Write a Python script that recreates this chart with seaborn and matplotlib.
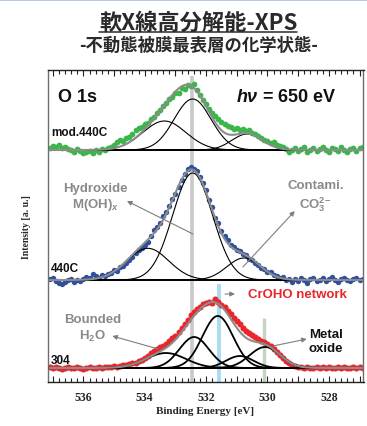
import numpy as np
import matplotlib
matplotlib.use("Agg")
import matplotlib.pyplot as plt
import seaborn as sns
from matplotlib.ticker import MultipleLocator, FuncFormatter
from matplotlib.lines import Line2D

# ---------------- data (heights, arbitrary units) ----------------
energy = np.round(np.linspace(537.1, 526.9, 103), 2)          # binding energy grid [eV]

mod440_counts = [2, 4, 3, 5, 2, 3, 1, 0, -2, 1,
                 -1, -3, -2, -1, -3, 0, -2, 1, 0, 2,
                 3, 5, 8, 10, 9, 12, 13, 16, 20, 22,
                 23, 26, 27, 31, 33, 37, 40, 44, 47, 51,
                 53, 57, 57, 62, 61, 65, 64, 66, 60, 55,
                 50, 46, 41, 37, 34, 31, 28, 26, 24, 23,
                 21, 22, 20, 21, 19, 20, 17, 16, 14, 12,
                 10, 9, 7, 8, 5, 4, 3, 1, -2, 0,
                 2, -1, 1, 3, -2, 0, 2, -1, 1, 3,
                 0, -2, 2, 1, -1, 3, 0, -2, 1, 2,
                 -1, 2, 3]
c440_counts = [1, 2, -1, -3, -4, -2, 0, 1, -2, 0,
               -1, 1, 3, 2, 6, 4, 2, 5, 4, 6,
               7, 10, 9, 13, 14, 17, 20, 23, 27, 30,
               32, 35, 38, 44, 50, 53, 57, 64, 68, 74,
               81, 86, 93, 100, 106, 111, 113, 111, 109, 103,
               97, 90, 80, 73, 62, 57, 49, 44, 40, 35,
               33, 30, 29, 26, 25, 21, 20, 17, 15, 12,
               11, 8, 8, 5, 4, 2, 3, 0, 1, -2,
               1, -1, 2, 0, -3, 1, 2, -1, 0, 2,
               -1, 1, 3, 0, -2, 1, 2, 0, -1, 1,
               2, 0, 1]
s304_counts = [1, 0, 1, 0, -1, 0, 1, 0, 0, 1,
               0, -1, 0, 1, 0, 0, 1, 0, 1, 1,
               1, 2, 1, 2, 3, 3, 4, 5, 5, 7,
               8, 10, 12, 15, 17, 19, 21, 22, 24, 27,
               30, 32, 36, 40, 44, 48, 53, 56, 59, 61,
               64, 65, 66, 65, 69, 66, 63, 61, 57, 54,
               50, 47, 44, 40, 37, 35, 33, 31, 29, 27,
               26, 24, 22, 19, 16, 13, 10, 7, 5, 3,
               2, 1, 1, 0, 1, 0, 0, 1, 0, 1,
               0, 1, 0, 0, 1, 0, 1, 0, 0, 1,
               0, 1, 0]

sample_labels = ["mod.440C", "440C", "304"]
offsets = [232, 102, 14]          # vertical offset of each spectrum

# fitted components: centre [eV], height, sigma [eV]
mod440_centres = [533.36, 532.44, 530.66]
mod440_heights = [29, 51, 16]
mod440_sigmas = [0.70, 0.60, 0.50]
c440_centres = [533.90, 532.44, 530.77]
c440_heights = [31.7, 107, 22]
c440_sigmas = [0.68, 0.65, 0.55]
s304_centres = [533.31, 532.39, 531.62, 530.90, 530.08]
s304_heights = [15, 31, 52, 12, 21]
s304_sigmas = [0.65, 0.48, 0.50, 0.45, 0.50]

marker_energies = [532.45, 531.59, 530.10]
marker_tops = [306, 98, 64]

xtick_values = [536, 534, 532, 530, 528]

# ---------------- style ----------------
sns.set_style("white")
plt.rcParams['font.family'] = ['Liberation Sans', 'Noto Sans CJK JP', 'DejaVu Sans']
plt.rcParams['mathtext.fontset'] = 'custom'
plt.rcParams['mathtext.rm'] = 'Liberation Sans:bold'
plt.rcParams['mathtext.it'] = 'Liberation Sans:italic:bold'
plt.rcParams['mathtext.bf'] = 'Liberation Sans:bold'

W, H = 367, 427
fig = plt.figure(figsize=(W / 100, H / 100), dpi=100)
ax = fig.add_axes([47.5 / W, (H - 383) / H, 316 / W, 312 / H])

green, blue, red = '#3cb64a', '#2f4f9f', '#e8262b'
envcol = '#8c8c8c'

# marker lines
for e, top, col, lw in zip(marker_energies, marker_tops,
                           ['#c9c9c9', '#a9dcf2', '#c3d5c0'], [2.6, 2.8, 2.4]):
    ax.vlines(e, 0, top, color=col, lw=lw, zorder=1)

xf = np.linspace(537.1, 526.9, 600)


def gauss(x, c, h, s):
    return h * np.exp(-(x - c) ** 2 / (2 * s ** 2))


specs = [
    (mod440_counts, mod440_centres, mod440_heights, mod440_sigmas, green, 0.8, 17),
    (c440_counts, c440_centres, c440_heights, c440_sigmas, blue, 0.8, 15),
    (s304_counts, s304_centres, s304_heights, s304_sigmas, red, 1.3, 19),
]

for (counts, cs, hs, ss, col, clw, msz), off in zip(specs, offsets):
    sns.scatterplot(x=energy, y=off + np.array(counts, float), ax=ax, color=col,
                    s=msz, linewidth=0, zorder=2, legend=False)
    env = np.zeros_like(xf)
    for c, h, s in zip(cs, hs, ss):
        comp = gauss(xf, c, h, s)
        env += comp
        sns.lineplot(x=xf, y=off + comp, ax=ax, color='black', lw=clw,
                     estimator=None, zorder=3, legend=False)
    sns.lineplot(x=xf, y=np.full_like(xf, off), ax=ax, color='black', lw=1.4,
                 estimator=None, zorder=3, legend=False)
    sns.lineplot(x=xf, y=off + env, ax=ax, color=envcol, lw=1.5,
                 estimator=None, zorder=4, legend=False)

ax.set_xlim(537.17, 526.87)
ax.set_ylim(0, 312)
ax.set_yticks([])

ax.xaxis.set_major_locator(MultipleLocator(1))
ax.xaxis.set_minor_locator(MultipleLocator(0.2))
ax.xaxis.set_major_formatter(FuncFormatter(
    lambda v, p: f"{int(round(v))}" if int(round(v)) in xtick_values else ""))
ax.tick_params(axis='x', which='both', direction='in', top=True, bottom=True,
               color='#222222', width=0.8)
ax.tick_params(axis='x', which='major', length=4.5, pad=6.5)
ax.tick_params(axis='x', which='minor', length=2.8)
for lab in ax.get_xticklabels():
    lab.set_family('Liberation Serif')
    lab.set_fontweight('bold')
    lab.set_fontsize(8.5)

for side in ['top', 'bottom']:
    ax.spines[side].set_color('#222222')
    ax.spines[side].set_linewidth(1.0)
for side in ['left', 'right']:
    ax.spines[side].set_color('#6e6e6e')
    ax.spines[side].set_linewidth(1.0)

ax.set_xlabel('Binding Energy [eV]', family='Liberation Serif', fontweight='bold', fontsize=8)
ax.xaxis.set_label_coords(0.5, (383 - 407) / 312)
ax.set_ylabel('Intensity [a. u.]', family='Liberation Serif', fontweight='bold', fontsize=7)
ax.yaxis.set_label_coords((31 - 47.5) / 316, 0.5)

# ---------------- in-plot text ----------------
ax.text(536.83, 286, 'O 1s', fontsize=13, fontweight='bold', ha='left', va='center', color='#111111')
ax.text(531.04, 286, r'$h\nu$ = 650 eV', fontsize=13, fontweight='bold', ha='left', va='center',
        color='#111111')

for lab, e, u in zip(sample_labels, [537.05, 537.05, 537.05], [250, 114, 22]):
    ax.text(e, u, lab, fontsize=8.5, fontweight='bold', ha='left', va='center', color='#111111')

gray_txt = '#8a8a8a'
ax.text(535.60, 185, 'Hydroxide\nM(OH)$_{x}$', fontsize=9.5, fontweight='bold', color=gray_txt,
        ha='center', va='center', linespacing=1.25)
ax.text(528.44, 186, 'Contami.\nCO$_3^{2\\!-}$', fontsize=9.5, fontweight='bold', color=gray_txt,
        ha='center', va='center', linespacing=1.25)
ax.text(535.69, 54, 'Bounded\nH$_2$O', fontsize=9.5, fontweight='bold', color=gray_txt,
        ha='center', va='center', linespacing=1.25)
ax.text(528.10, 41, 'Metal\noxide', fontsize=9.5, fontweight='bold', color='#111111',
        ha='center', va='center', linespacing=1.25)
ax.text(529.02, 88, 'CrOHO network', fontsize=9.5, fontweight='bold', color=red,
        ha='center', va='center')

arrow_kw = dict(arrowstyle='-|>', color='#7f7f7f', lw=0.8, mutation_scale=7, shrinkA=0, shrinkB=0)
for tail, head in [((532.43, 148), (534.58, 181)),
                   ((530.80, 115), (529.11, 171)),
                   ((531.38, 88), (531.06, 88)),
                   ((533.56, 33), (535.06, 46)),
                   ((529.82, 36), (528.72, 43))]:
    ax.annotate('', xy=head, xytext=tail, arrowprops=arrow_kw, zorder=5)

# ---------------- titles ----------------
t1 = fig.text(198 / W, 1 - 23 / H, '軟X線高分解能-XPS', ha='center', va='center', fontsize=16,
              fontweight='bold', family=['Noto Sans CJK JP', 'DejaVu Sans'], color='#2a2a2a')
fig.text(199 / W, 1 - 45.5 / H, '-不動態被膜最表層の化学状態-', ha='center', va='center',
         fontsize=12.5, fontweight='bold', family=['Noto Sans CJK JP', 'DejaVu Sans'], color='#2a2a2a')

fig.canvas.draw()
bb = t1.get_window_extent(fig.canvas.get_renderer())
fig.add_artist(Line2D([bb.x0 / W, bb.x1 / W], [1 - 32.5 / H] * 2, color='#2a2a2a', lw=1.1))
fig.add_artist(Line2D([0, 1], [1 - 1 / H] * 2, color='#a9bfd6', lw=1.2))

fig.savefig('out.png', dpi=100)
